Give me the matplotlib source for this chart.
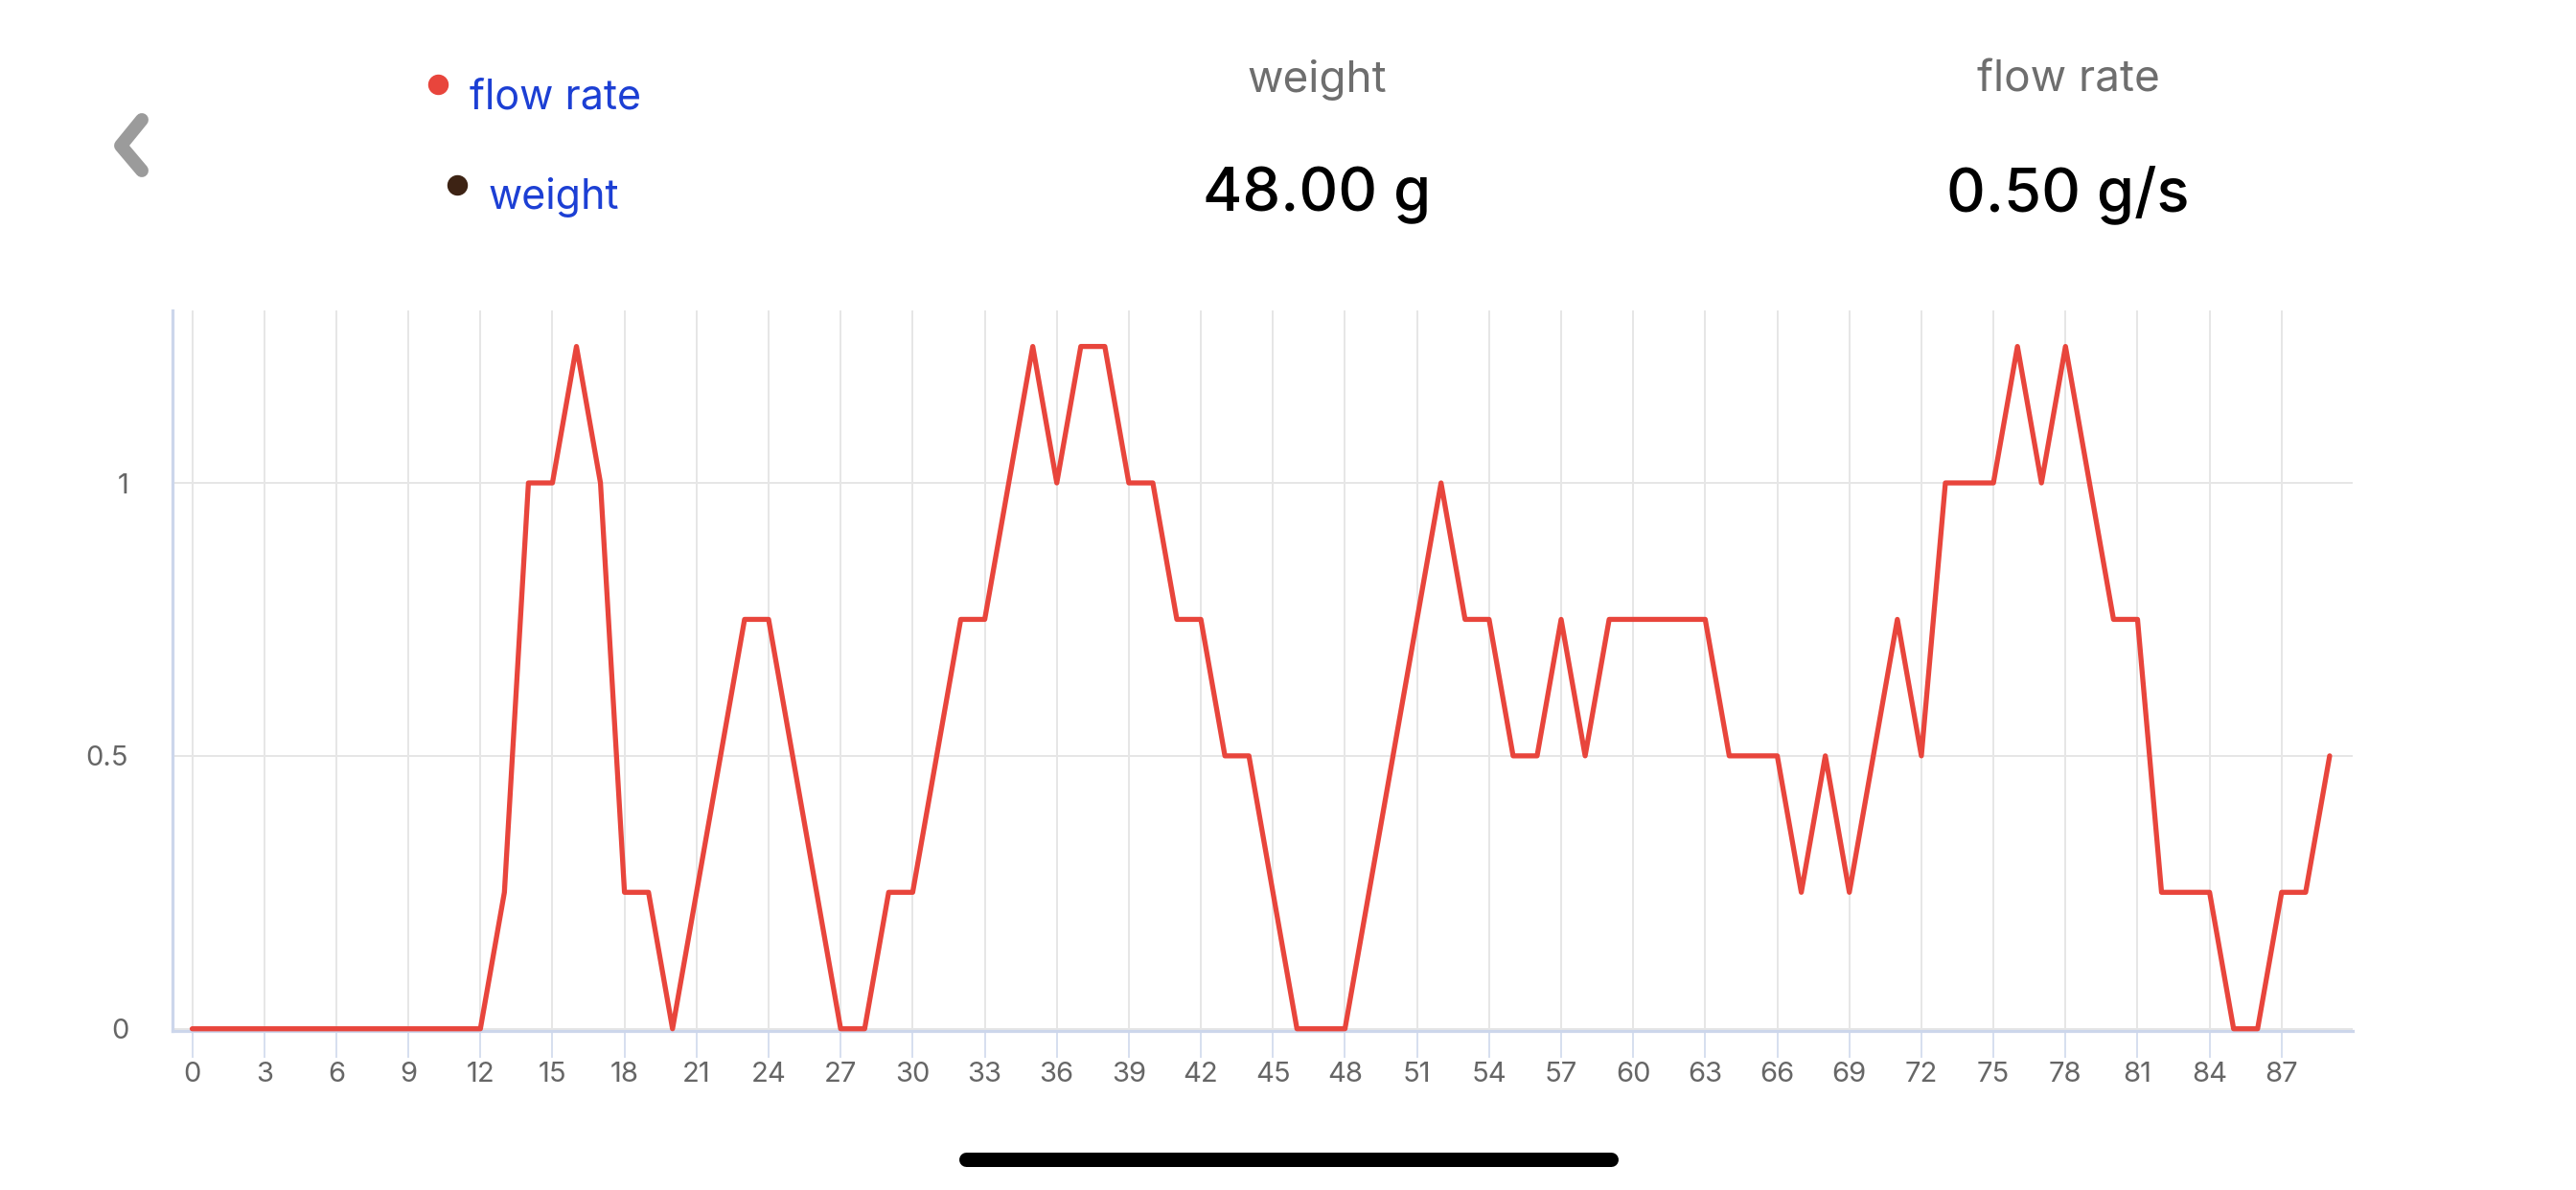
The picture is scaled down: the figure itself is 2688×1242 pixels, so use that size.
import matplotlib
matplotlib.use("Agg")
import matplotlib.pyplot as plt
from matplotlib.lines import Line2D

plt.rcParams['font.family'] = ['Inter', 'DejaVu Sans']

# ── data ──
seconds = list(range(90))
flow_rate = [0, 0, 0, 0, 0, 0, 0, 0, 0, 0, 0, 0, 0,
             0.25, 1.0, 1.0, 1.25, 1.0, 0.25, 0.25, 0, 0.25, 0.5, 0.75, 0.75,
             0.5, 0.25, 0, 0, 0.25, 0.25, 0.5, 0.75, 0.75, 1.0, 1.25, 1.0,
             1.25, 1.25, 1.0, 1.0, 0.75, 0.75, 0.5, 0.5, 0.25, 0, 0, 0,
             0.25, 0.5, 0.75, 1.0, 0.75, 0.75, 0.5, 0.5, 0.75, 0.5, 0.75, 0.75,
             0.75, 0.75, 0.75, 0.5, 0.5, 0.5, 0.25, 0.5, 0.25, 0.5, 0.75, 0.5,
             1.0, 1.0, 1.0, 1.25, 1.0, 1.25, 1.0, 0.75, 0.75, 0.25, 0.25, 0.25,
             0, 0, 0.25, 0.25, 0.5]
x_ticks = list(range(0, 88, 3))
y_ticks = [0, 0.5, 1]
y_labels = ['0', '0.5', '1']
series_names = ['flow rate', 'weight']
series_colors = ['#e8453c', '#3d2314']
current_weight = "48.00 g"
current_flow = "0.50 g/s"

W, H = 2688, 1242
RED = '#e8453c'
AXIS = '#ccd6eb'
GRID = '#e6e6e6'
BLUE = '#1c3fd4'


def fx(px):
    return px / W


def fy(py):
    return 1 - py / H


fig = plt.figure(figsize=(W / 100, H / 100), dpi=100)
fig.patch.set_facecolor('white')

# ── chart ──
ax = fig.add_axes([fx(180), fy(1076), fx(2455) - fx(180), fy(324) - fy(1076)])
ax.plot(seconds, flow_rate, color=RED, lw=3.8, solid_joinstyle='round',
        solid_capstyle='round', clip_on=False, zorder=3)
ax.set_xlim(-0.82, 89.96)
ax.set_ylim(-0.004, 1.316)
ax.set_xticks(x_ticks)
ax.set_yticks(y_ticks)
ax.set_yticklabels(y_labels)
ax.set_axisbelow(True)
ax.grid(True, color=GRID, lw=1.4)
for side in ['top', 'right']:
    ax.spines[side].set_visible(False)
for side in ['left', 'bottom']:
    ax.spines[side].set_color(AXIS)
    ax.spines[side].set_linewidth(2.3)
ax.tick_params(axis='x', direction='out', length=20, width=1.1, color=AXIS,
               labelsize=21, labelcolor='#666666', pad=3)
ax.tick_params(axis='y', length=0, labelsize=21, labelcolor='#666666', pad=33)

# ── header values ──
fig.text(fx(1374), fy(96), 'weight', ha='center', va='baseline',
         fontsize=33, color='#6e6e6e')
fig.text(fx(1374), fy(220), current_weight, ha='center', va='baseline',
         fontsize=45.5, fontweight='medium', color='black')
fig.text(fx(2158), fy(96), 'flow rate', ha='center', va='baseline',
         fontsize=33, color='#6e6e6e')
fig.text(fx(2158), fy(220), current_flow, ha='center', va='baseline',
         fontsize=45.5, fontweight='medium', color='black')

# ── legend ──
for (dot_x, dot_y, txt_x, txt_y), name, col in zip(
        [(457, 88, 490, 113), (477, 193, 510, 218)], series_names, series_colors):
    fig.add_artist(Line2D([fx(dot_x)], [fy(dot_y)], marker='o', markersize=14.4,
                          color=col, transform=fig.transFigure))
    fig.text(fx(txt_x), fy(txt_y), name, ha='left', va='baseline',
             fontsize=31, color=BLUE)

# ── back chevron + home indicator ──
fig.add_artist(Line2D([fx(148), fx(126), fx(148)], [fy(125), fy(152), fy(178)],
                      lw=10, color='#9b9b9b', solid_capstyle='round',
                      solid_joinstyle='round', transform=fig.transFigure))
fig.add_artist(Line2D([fx(1008), fx(1681)], [fy(1210), fy(1210)], lw=10.8,
                      color='black', solid_capstyle='round',
                      transform=fig.transFigure))

fig.savefig('out.png', dpi=100)
